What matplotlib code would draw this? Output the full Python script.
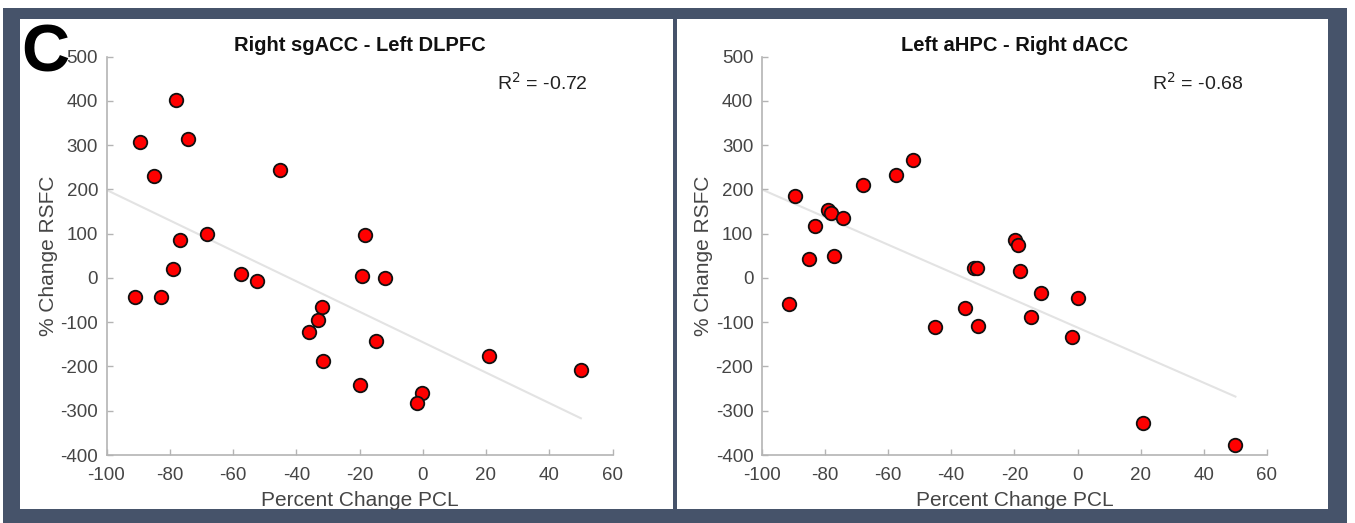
import matplotlib
matplotlib.use("Agg")
import matplotlib.pyplot as plt
from matplotlib.patches import Rectangle

# ---------------- data ----------------
left_title = "Right sgACC - Left DLPFC"
left_x = [-78.1, -89.4, -74.2, -84.9, -45.0, -76.8, -68.1, -18.4, -78.9, -57.5,
          -52.3, -19.1, -11.8, -91.0, -82.7, -32.0, -33.1, -36.0, -14.7, -31.4,
          20.8, 49.9, -19.9, -0.1, -1.7]
left_y = [402, 308, 313, 231, 244, 86, 99, 96, 21, 10,
          -7, 4, 1, -44, -43, -65, -96, -123, -142, -188,
          -177, -209, -242, -261, -282]
left_fit_x = [-100, 50]
left_fit_y = [199, -317]
left_r2 = "R$^2$ = -0.72"

right_title = "Left aHPC - Right dACC"
right_x = [-52.2, -57.6, -68.0, -89.4, -79.1, -78.2, -74.2, -83.0, -84.9, -77.0,
           -91.3, -19.7, -19.0, -32.9, -31.9, -18.2, -11.6, 0.0, -35.8, -45.1,
           -31.4, -14.8, -1.6, 20.8, 50.0]
right_y = [267, 232, 211, 185, 153, 147, 136, 117, 44, 50,
           -58, 85, 75, 23, 23, 16, -34, -46, -67, -111,
           -108, -88, -134, -328, -377]
right_fit_x = [-100, 50]
right_fit_y = [200, -268]
right_r2 = "R$^2$ = -0.68"

x_ticks = [-100, -80, -60, -40, -20, 0, 20, 40, 60]
y_ticks = [-400, -300, -200, -100, 0, 100, 200, 300, 400, 500]
x_label = "Percent Change PCL"
y_label = "% Change RSFC"
panel_letter = "C"

# ---------------- style ----------------
W, H = 1355, 523
plt.rcParams['font.family'] = ['Liberation Sans', 'DejaVu Sans']
plt.rcParams['axes.unicode_minus'] = False
fig = plt.figure(figsize=(W / 100, H / 100), dpi=100, facecolor='white')

dark = '#46536A'
def fig_rect(x0, y0, x1, y1, color):
    fig.patches.append(Rectangle((x0 / W, 1 - y1 / H), (x1 - x0) / W, (y1 - y0) / H,
                                 transform=fig.transFigure, facecolor=color,
                                 edgecolor='none', zorder=-10))

fig_rect(3, 8, 1347, 523, dark)
fig_rect(20, 19, 673, 509, 'white')
fig_rect(677, 19, 1328, 509, 'white')

spine_c = '#b4b4b4'
tick_txt = '#454545'

def make_panel(pos, title, xs, ys, fx, fy, r2):
    ax = fig.add_axes(pos)
    ax.set_facecolor('none')
    ax.plot(fx, fy, color='#e3e3e3', lw=1.5, zorder=1)
    ax.scatter(xs, ys, s=95, facecolor='#ff0000', edgecolor='#111111',
               linewidth=1.3, zorder=3)
    ax.set_xlim(-100, 60)
    ax.set_ylim(-400, 500)
    ax.set_xticks(x_ticks)
    ax.set_yticks(y_ticks)
    for s in ['top', 'right']:
        ax.spines[s].set_visible(False)
    for s in ['left', 'bottom']:
        ax.spines[s].set_color(spine_c)
        ax.spines[s].set_linewidth(1.2)
    ax.tick_params(direction='in', length=4, width=1, color=spine_c,
                   labelcolor=tick_txt, labelsize=13.5)
    ax.tick_params(axis='x', pad=9)
    ax.tick_params(axis='y', pad=6)
    ax.set_title(title, fontsize=14.5, fontweight='bold', pad=4, color='#111111')
    ax.set_xlabel(x_label, fontsize=15, color=tick_txt)
    ax.xaxis.label.set_va('center')
    ax.xaxis.set_label_coords(0.5, -0.114)
    ax.set_ylabel(y_label, fontsize=15, color=tick_txt)
    ax.yaxis.label.set_va('center')
    ax.yaxis.set_label_coords(-0.115, 0.5)
    ax.text(23.5, 440, r2, fontsize=14, color='#222222', ha='left', va='center')
    return ax

make_panel([106.5 / W, 68 / H, 506 / W, 398.3 / H], left_title, left_x, left_y,
           left_fit_x, left_fit_y, left_r2)
make_panel([761.8 / W, 68 / H, 505.2 / W, 398.3 / H], right_title, right_x, right_y,
           right_fit_x, right_fit_y, right_r2)

fig.text(21 / W, 1 - 72 / H, panel_letter, fontsize=48, fontweight='bold',
         color='black', ha='left', va='baseline')

fig.savefig('out.png', dpi=100, facecolor=fig.get_facecolor())
